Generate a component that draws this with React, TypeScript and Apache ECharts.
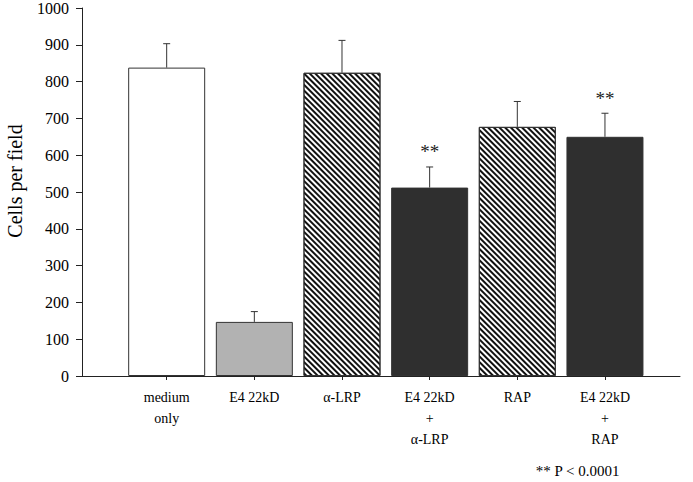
import React, { useEffect, useRef } from "react";
import * as echarts from "echarts";

const categories = ["medium\nonly", "E4 22kD", "α-LRP", "E4 22kD\n+\nα-LRP", "RAP", "E4 22kD\n+\nRAP"];
const positions = [1, 2, 3, 4, 5, 6];
const means = [838, 147, 824, 512, 677, 650];
const errors = [65, 28, 88, 56, 69, 64];
const significant = [false, false, false, true, false, true];
const yTicks = [0, 100, 200, 300, 400, 500, 600, 700, 800, 900, 1000];

const SERIF = "'Liberation Serif', 'Times New Roman', serif";

const stripe = (rot: number) => ({
  symbol: "rect",
  symbolSize: 1,
  dashArrayX: [1, 0],
  dashArrayY: [2, 2],
  rotation: rot,
  color: "#111",
  backgroundColor: "#fff",
});

const styles = [
  { color: "#ffffff" },
  { color: "#b2b2b2" },
  { color: "#fff", decal: stripe(Math.PI / 4) },
  { color: "#2f2f2f" },
  { color: "#fff", decal: stripe(Math.PI / 4) },
  { color: "#2f2f2f" },
];

export default function App() {
  const ref = useRef<HTMLDivElement>(null);
  useEffect(() => {
    if (!ref.current) return;
    const chart = echarts.init(ref.current, undefined, { renderer: "svg" });
    const barData = positions.map((p, i) => ({
      value: [p, means[i]],
      itemStyle: { ...styles[i], borderColor: "#333", borderWidth: 1 },
    }));
    const errData = positions.map((p, i) => [p, means[i], errors[i], significant[i] ? 1 : 0]);
    chart.setOption({
      animation: false,
      backgroundColor: "#fff",
      grid: { left: 82, right: 13, top: 6, bottom: 106 },
      xAxis: {
        type: "value",
        min: 0.034,
        max: 6.856,
        splitLine: { show: false },
        axisLine: { show: true, lineStyle: { color: "#222", width: 1 } },
        axisTick: { show: true, customValues: positions, length: 4, lineStyle: { color: "#222" } },
        axisLabel: {
          customValues: positions,
          formatter: (v: number) => categories[Math.round(v) - 1] ?? "",
          fontFamily: SERIF,
          fontSize: 14,
          lineHeight: 21,
          color: "#000",
          margin: 11,
        },
      },
      yAxis: {
        type: "value",
        min: 0,
        max: 1000,
        interval: 100,
        splitLine: { show: false },
        axisLine: { show: true, lineStyle: { color: "#222", width: 1 } },
        axisTick: { show: true, length: 6, lineStyle: { color: "#222" } },
        axisLabel: {
          fontFamily: SERIF,
          fontSize: 16,
          color: "#000",
          margin: 13,
          customValues: yTicks,
          formatter: (v: number) => String(v),
        },
      },
      series: [
        {
          type: "bar",
          barWidth: 77,
          data: barData,
        },
        {
          type: "custom",
          data: errData,
          z: 3,
          renderItem: (params: any, api: any) => {
            const x = api.value(0);
            const m = api.value(1);
            const e = api.value(2);
            const sig = api.value(3);
            const p0 = api.coord([x, m]);
            const p1 = api.coord([x, m + e]);
            const children: any[] = [
              { type: "line", shape: { x1: p0[0], y1: p0[1], x2: p1[0], y2: p1[1] }, style: { stroke: "#333", lineWidth: 1 } },
              { type: "line", shape: { x1: p1[0] - 3.5, y1: p1[1], x2: p1[0] + 3.5, y2: p1[1] }, style: { stroke: "#333", lineWidth: 1 } },
            ];
            if (sig) {
              children.push({
                type: "text",
                x: p1[0],
                y: p1[1] - 15,
                style: {
                  text: "**",
                  fontFamily: SERIF,
                  fontSize: 19,
                  fill: "#222",
                  align: "center",
                  verticalAlign: "middle",
                },
              });
            }
            return { type: "group", children };
          },
        },
      ],
      graphic: [
        {
          type: "text",
          x: 15,
          y: 181,
          rotation: Math.PI / 2,
          style: {
            text: "Cells per field",
            fontFamily: SERIF,
            fontSize: 20,
            fill: "#000",
            align: "center",
            verticalAlign: "middle",
          },
        },
        {
          type: "text",
          right: 73,
          top: 463,
          style: {
            text: "** P < 0.0001",
            fontFamily: SERIF,
            fontSize: 15,
            fill: "#000",
          },
        },
      ],
    });
    return () => chart.dispose();
  }, []);
  return <div ref={ref} style={{ position: "fixed", left: 0, top: 0, width: 693, height: 482 }} />;
}
